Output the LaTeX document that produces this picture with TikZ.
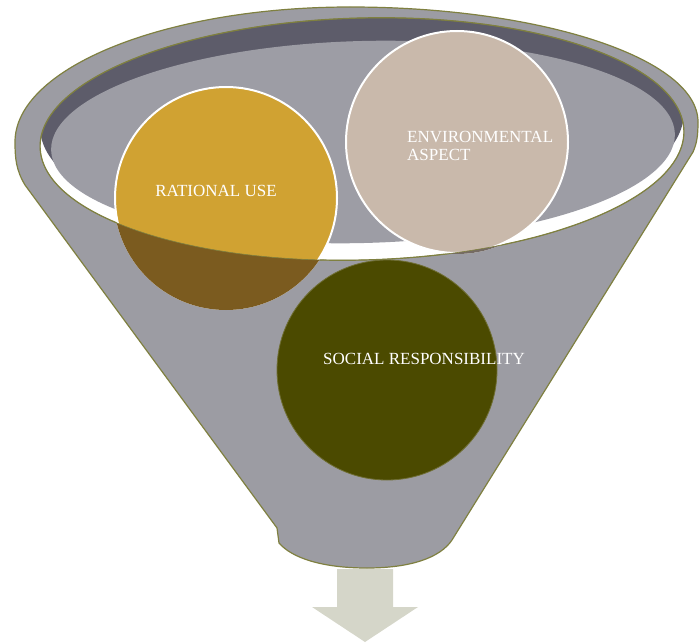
\documentclass[tikz,border=0pt]{standalone}
\usepackage{fontspec}
\setmainfont{Liberation Serif}
\usetikzlibrary{calc}

\definecolor{corpo}{HTML}{9C9CA3}
\definecolor{contorno}{HTML}{7F8040}
\definecolor{escuro}{HTML}{5D5C6A}
\definecolor{superficie}{HTML}{9D9DA5}
\definecolor{ouro}{HTML}{D0A232}
\definecolor{ouroEsc}{HTML}{7B5B1F}
\definecolor{bege}{HTML}{C9B9AB}
\definecolor{begeEsc}{HTML}{756B63}
\definecolor{oliva}{HTML}{4B4A00}
\definecolor{seta}{HTML}{D5D6C9}

% abertura do funil
\def\abertura{{[rotate around={1.5:(362,139)}] (362,139) ellipse [x radius=322, y radius=121]}}

\begin{document}
\begin{tikzpicture}[x=1bp, y=-1bp]

% Estilos
\tikzset{
    funil/.style={fill=corpo, draw=contorno, line width=1.2bp},
    bola/.style={circle, inner sep=0pt, minimum size=222bp, line width=2bp},
    rotulo/.style={text=white, inner sep=0pt, font=\fontsize{17bp}{18bp}\selectfont}
}

\useasboundingbox (0,0) rectangle (699,643);

% Funil
\draw[funil] (25,185) .. controls (16,170) and (15,158) .. (15,142)
    .. controls (15,68) and (165,7) .. (350,7)
    .. controls (540,7) and (698,58) .. (698,122)
    .. controls (698,135) and (697,143) .. (693,152)
    -- (452,540)
    .. controls (440,558) and (410,568) .. (367,568)
    .. controls (322,568) and (292,558) .. (279,543)
    -- (277,528) -- cycle;

\fill[white] \abertura;
\begin{scope}
    \clip \abertura;
    \fill[escuro] {[rotate around={1.5:(362,120)}] (362,120) ellipse [x radius=322, y radius=121]};
    \fill[superficie] {[rotate around={1.5:(363,142)}] (363,142) ellipse [x radius=312, y radius=101]};
\end{scope}
\draw[contorno, line width=1.2bp] \abertura;

% Circulos
\node[bola, fill=ouro, draw=white] (rational) at (226,198) {};
\node[bola, fill=bege, draw=white] (environmental) at (457,142) {};
\node[bola, fill=oliva, draw=oliva!80!white, line width=0.8bp, minimum size=220bp] (social) at (387,370) {};

% parte na frente do funil
\begin{scope}
    \clip (rational.center) circle [radius=112];
    \fill[ouroEsc, even odd rule] (0,0) rectangle (699,643) \abertura;
\end{scope}
\begin{scope}
    \clip (environmental.center) circle [radius=112];
    \fill[begeEsc, even odd rule] (0,0) rectangle (699,643) \abertura;
\end{scope}
\draw[contorno, line width=0.6bp] \abertura;

% Textos
\node[rotulo] (txtRational) at ($(rational)+(-10,-7)$) {RATIONAL USE};
\node[rotulo, anchor=west, align=left] (txtEnvironmental) at ($(environmental)+(-50,4)$) {ENVIRONMENTAL\\ASPECT};
\node[rotulo, anchor=west] (txtSocial) at ($(social)+(-64,-11)$) {SOCIAL RESPONSIBILITY};

% Seta
\fill[seta] (337,569) -- (393,569) -- (393,607) -- (418,607) -- (365,642) -- (312,607) -- (337,607) -- cycle;

\end{tikzpicture}
\end{document}
